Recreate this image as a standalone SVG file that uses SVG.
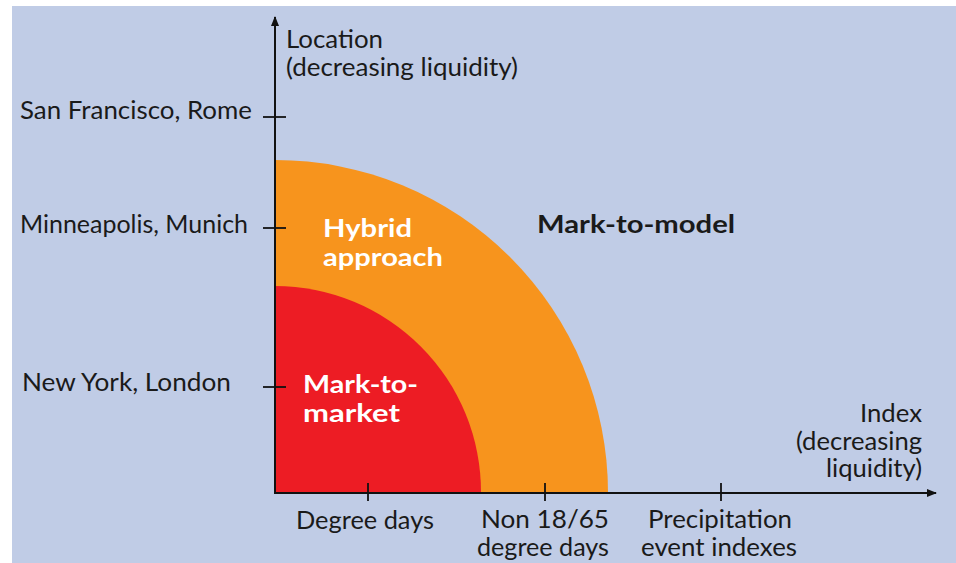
<svg xmlns="http://www.w3.org/2000/svg" width="956" height="563" viewBox="0 0 956 563">
  <style>
    .lbl { font-family: Lato, "Open Sans", "Liberation Sans", sans-serif; font-size: 25px; fill: #1a1a1a; }
    .zone { font-family: Lato, "Open Sans", "Liberation Sans", sans-serif; font-size: 25px; font-weight: bold; fill: #ffffff; }
    .zone-dark { fill: #1a1a1a; }
    .axis { stroke: #111; stroke-width: 2; fill: none; }
    .tick { stroke: #111; stroke-width: 1.8; }
  </style>
  <defs>
    <marker id="arrow" viewBox="0 0 10 10" refX="9" refY="5" markerWidth="5" markerHeight="5" orient="auto" markerUnits="strokeWidth">
      <path d="M0,1 L10,5 L0,9 Z" fill="#111"/>
    </marker>
  </defs>

  <rect x="0" y="0" width="956" height="563" fill="#ffffff"/>
  <rect x="12" y="6" width="944" height="557" fill="#c0cce6"/>

  <!-- valuation regions -->
  <g id="mark-to-model">
    <text class="zone zone-dark" x="537" y="233" textLength="198" lengthAdjust="spacingAndGlyphs">Mark-to-model</text>
  </g>
  <g id="hybrid">
    <path d="M275,493 L275,160 A333,333 0 0 1 608,493 Z" fill="#f7941d"/>
    <text class="zone" x="323" y="237" textLength="89" lengthAdjust="spacingAndGlyphs">Hybrid</text>
    <text class="zone" x="323" y="266" textLength="120" lengthAdjust="spacingAndGlyphs">approach</text>
  </g>
  <g id="mark-to-market">
    <path d="M275,493 L275,286 A206,206 0 0 1 481,493 Z" fill="#ed1c24"/>
    <text class="zone" x="303" y="393" textLength="115" lengthAdjust="spacingAndGlyphs">Mark-to-</text>
    <text class="zone" x="303" y="422" textLength="97" lengthAdjust="spacingAndGlyphs">market</text>
  </g>

  <!-- axes and ticks -->
  <g id="connectors">
    <line class="axis" x1="275" y1="494" x2="275" y2="17" marker-end="url(#arrow)"/>
    <line class="axis" x1="274" y1="493" x2="936" y2="493" marker-end="url(#arrow)"/>
    <line class="tick" x1="263" y1="117" x2="286" y2="117"/>
    <line class="tick" x1="263" y1="228" x2="286" y2="228"/>
    <line class="tick" x1="263" y1="387" x2="286" y2="387"/>
    <line class="tick" x1="368" y1="483" x2="368" y2="501"/>
    <line class="tick" x1="545" y1="483" x2="545" y2="501"/>
    <line class="tick" x1="721" y1="483" x2="721" y2="501"/>
  </g>

  <g id="y-axis-title">
    <text class="lbl" x="286" y="48" textLength="97" lengthAdjust="spacingAndGlyphs">Location</text>
    <text class="lbl" x="286" y="76" textLength="232" lengthAdjust="spacingAndGlyphs">(decreasing liquidity)</text>
  </g>
  <g id="y-labels">
    <text class="lbl" x="20" y="119" textLength="232" lengthAdjust="spacingAndGlyphs">San Francisco, Rome</text>
    <text class="lbl" x="20" y="233" textLength="228" lengthAdjust="spacingAndGlyphs">Minneapolis, Munich</text>
    <text class="lbl" x="22" y="391" textLength="209" lengthAdjust="spacingAndGlyphs">New York, London</text>
  </g>
  <g id="x-axis-title">
    <text class="lbl" x="860" y="422" textLength="62" lengthAdjust="spacingAndGlyphs">Index</text>
    <text class="lbl" x="796" y="450" textLength="126" lengthAdjust="spacingAndGlyphs">(decreasing</text>
    <text class="lbl" x="826" y="477" textLength="96" lengthAdjust="spacingAndGlyphs">liquidity)</text>
  </g>
  <g id="x-labels">
    <text class="lbl" x="296" y="529" textLength="138" lengthAdjust="spacingAndGlyphs">Degree days</text>
    <text class="lbl" x="481" y="528" textLength="128" lengthAdjust="spacingAndGlyphs">Non 18/65</text>
    <text class="lbl" x="477" y="556" textLength="132" lengthAdjust="spacingAndGlyphs">degree days</text>
    <text class="lbl" x="648" y="528" textLength="144" lengthAdjust="spacingAndGlyphs">Precipitation</text>
    <text class="lbl" x="641" y="556" textLength="156" lengthAdjust="spacingAndGlyphs">event indexes</text>
  </g>
</svg>
